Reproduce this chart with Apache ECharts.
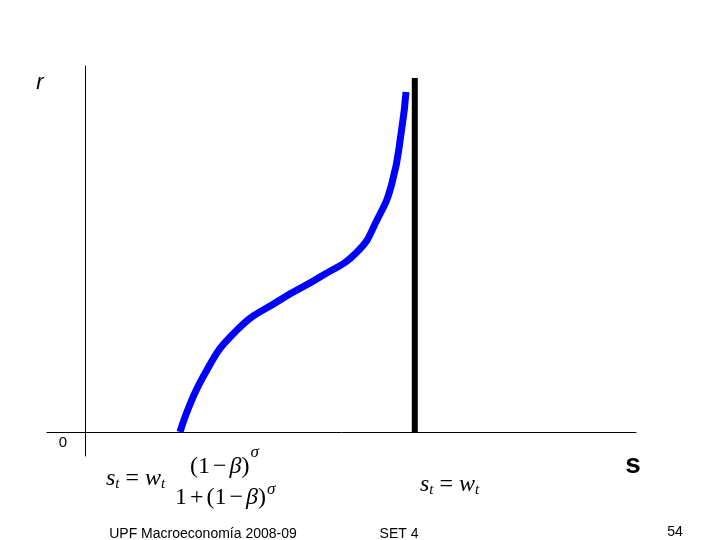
<!DOCTYPE html>
<html>
<head>
<meta charset="utf-8">
<script src="https://cdn.jsdelivr.net/npm/echarts@6/dist/echarts.min.js"></script>
<style>
    html, body {margin: 0; padding: 0; background: #ffffff;}
    #chart {width: 720px; height: 540px;}
</style>
</head>
<body>
<div id="chart"></div>
<script>
// 储蓄曲线 (s, r)
const curveS = [4.75, 5.9, 7.6, 9.75, 11.75, 13.6, 14.6, 15.35, 15.85, 16.05];
const curveR = [0, 2.75, 5.1, 6.6, 7.75, 9.0, 10.6, 12.45, 15.25, 17];
// 垂直线 s = w
const wallS = [16.49, 16.49];
const wallR = [0, 17.7];

const footerTexts = ['UPF Macroeconomía 2008-09', 'SET 4', '54'];

const serif = '"Liberation Serif", "Times New Roman", serif';
const sans = '"Liberation Sans", Arial, sans-serif';

// 公式的富文本样式, mainLH 控制上下标的偏移
function makeRich(mainLH, opPad) {
    let base = {fontFamily: serif, fontSize: 24, lineHeight: mainLH, verticalAlign: 'middle', fill: '#000'};
    return {
        u: Object.assign({}, base),
        i: Object.assign({}, base, {fontStyle: 'italic'}),
        op: Object.assign({}, base, {padding: [0, opPad, 0, opPad]}),
        sup: {fontFamily: serif, fontSize: 17, fontStyle: 'italic', lineHeight: 17, verticalAlign: 'top', fill: '#000', padding: [0, 0, 0, 1]},
        sub: {fontFamily: serif, fontSize: 15, fontStyle: 'italic', lineHeight: 15, verticalAlign: 'bottom', fill: '#000'}
    };
}

function zip(xs, ys) {
    return xs.map((x, i) => [x, ys[i]]);
}

function mathText(x, y, text, rich) {
    return {
        type: 'text',
        x: x,
        y: y,
        style: {text: text, rich: rich, align: 'left', verticalAlign: 'middle'}
    };
}

function plainText(x, y, text, font, align) {
    return {
        type: 'text',
        x: x,
        y: y,
        style: {text: text, font: font, fill: '#000', align: align || 'center', verticalAlign: 'middle'}
    };
}

const eqText = '{i|s}{sub|t}{op|=}{i|w}{sub|t}';

const chart = echarts.init(document.getElementById('chart'));
const option = {
    animation: false,
    backgroundColor: '#ffffff',
    grid: {left: 47, right: 84, top: 66, bottom: 84, containLabel: false},
    xAxis: {
        type: 'value',
        min: -1.9,
        max: 27.55,
        axisLine: {show: true, onZero: true, lineStyle: {color: '#000', width: 1}},
        axisTick: {show: false},
        axisLabel: {show: false},
        splitLine: {show: false}
    },
    yAxis: {
        type: 'value',
        min: -1.2,
        max: 18.3,
        axisLine: {show: true, onZero: true, lineStyle: {color: '#000', width: 1}},
        axisTick: {show: false},
        axisLabel: {show: false},
        splitLine: {show: false}
    },
    series: [
        {
            type: 'line',
            data: zip(wallS, wallR),
            symbol: 'none',
            lineStyle: {color: '#000', width: 6}
        },
        {
            type: 'line',
            data: zip(curveS, curveR),
            smooth: 0.5,
            symbol: 'none',
            lineStyle: {color: '#0000ff', width: 7}
        }
    ],
    graphic: [
        plainText(40, 83, 'r', 'italic 22px ' + sans),
        plainText(63, 443, '0', '15px ' + sans),
        plainText(633, 465, 's', 'bold 28px ' + sans),
        mathText(106, 479, eqText, makeRich(26, 6)),
        mathText(190, 467, '{u|(1}{op|−}{i|β}{u|)}{sup|σ}', makeRich(46, 3)),
        mathText(175, 498, '{u|1}{op|+}{u|(1}{op|−}{i|β}{u|)}{sup|σ}', makeRich(34, 3)),
        mathText(420, 485, eqText, makeRich(26, 6)),
        plainText(203, 534, footerTexts[0], '14px ' + sans),
        plainText(399, 534, footerTexts[1], '14px ' + sans),
        plainText(675, 532, footerTexts[2], '14px ' + sans)
    ]
};
chart.setOption(option);
</script>
</body>
</html>
